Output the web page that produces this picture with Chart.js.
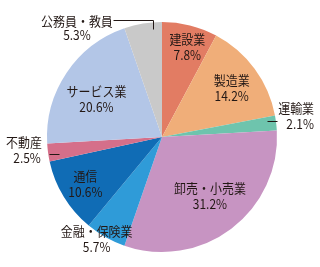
<!DOCTYPE html>
<html>
<head>
<meta charset="utf-8">
<script src="https://cdn.jsdelivr.net/npm/chart.js@4"></script>
<style>
  html, body { margin: 0; padding: 0; background: #fff; }
  #wrap { width: 320px; height: 267px; }
</style>
</head>
<body>
<div id="wrap"><canvas id="pie"></canvas></div>
<script>
// データ
const categories = ['建設業', '製造業', '運輸業', '卸売・小売業', '金融・保険業', '通信', '不動産', 'サービス業', '公務員・教員'];
const shares = [7.8, 14.2, 2.1, 31.2, 5.7, 10.6, 2.5, 20.6, 5.3];
const sliceColors = ['#E27C63', '#F0AE79', '#6EC4AD', '#C794C2', '#2F9BD8', '#106CB5', '#D56F8A', '#B3C6E7', '#C9C9C9'];

// ラベル配置（扇形の中心角方向に r 倍の位置 + ずらし）
const labelPlace = [
    { r: 0.80, dx: 3, dy: -1 },
    { r: 0.72, dx: 3, dy: 0.5 },
    { r: 1.0, dx: 20, dy: -6.4, sub: 4, line: [[-9, -1.5], [1, -1.5]] },
    { r: 0.64, dx: 3.6, dy: 0 },
    { r: 1.0, dx: -9, dy: 1.7 },
    { r: 0.78, dx: 0, dy: 0 },
    { r: 1.0, dx: -24, dy: -2, sub: 3, line: [[1, 1.5], [11, 1.5]] },
    { r: 0.66, dx: -2.5, dy: 4 },
    { r: 1.0, dx: -66, dy: 4.4, gap: 7, line: [[10, 5], [10, -3.6], [-30, -3.6]] }
];

const fontFamily = "'Noto Sans CJK JP', 'Noto Sans', sans-serif";

function drawText(ctx, text, x, y) {
    // 縦長の書体に寄せるため横方向を少し詰める
    ctx.save();
    ctx.translate(x, y);
    ctx.scale(0.92, 1);
    ctx.fillText(text, 0, 0);
    ctx.restore();
}

const labelPlugin = {
    id: 'sliceLabels',
    afterDatasetsDraw(chart) {
        const ctx = chart.ctx;
        const arcs = chart.getDatasetMeta(0).data;
        ctx.save();
        ctx.fillStyle = '#231815';
        ctx.strokeStyle = '#231815';
        ctx.lineWidth = 1;
        ctx.textAlign = 'center';
        ctx.textBaseline = 'middle';
        ctx.font = `13px ${fontFamily}`;
        arcs.forEach((arc, i) => {
            const p = arc.getProps(['x', 'y', 'startAngle', 'endAngle', 'outerRadius'], true);
            const mid = (p.startAngle + p.endAngle) / 2;
            const cfg = labelPlace[i];
            const ax = p.x + Math.cos(mid) * p.outerRadius * cfg.r;
            const ay = p.y + Math.sin(mid) * p.outerRadius * cfg.r;
            if (cfg.line) {
                ctx.beginPath();
                cfg.line.forEach((pt, k) => {
                    const lx = Math.round(ax + pt[0]) + 0.5;
                    const ly = Math.round(ay + pt[1]) + 0.5;
                    if (k === 0) ctx.moveTo(lx, ly); else ctx.lineTo(lx, ly);
                });
                ctx.stroke();
            }
            const tx = ax + cfg.dx;
            const ty = ay + cfg.dy;
            const gap = cfg.gap || 8;
            drawText(ctx, categories[i], tx, ty - gap);
            drawText(ctx, shares[i].toFixed(1) + '%', tx + (cfg.sub || 0), ty + gap);
        });
        ctx.restore();
    }
};

new Chart(document.getElementById('pie'), {
    type: 'pie',
    data: {
        labels: categories,
        datasets: [{
            data: shares,
            backgroundColor: sliceColors,
            borderWidth: 0
        }]
    },
    options: {
        responsive: true,
        maintainAspectRatio: false,
        animation: false,
        layout: { padding: { top: 22, bottom: 15, left: 47, right: 43 } },
        plugins: {
            legend: { display: false },
            tooltip: { enabled: false }
        }
    },
    plugins: [labelPlugin]
});
</script>
</body>
</html>
